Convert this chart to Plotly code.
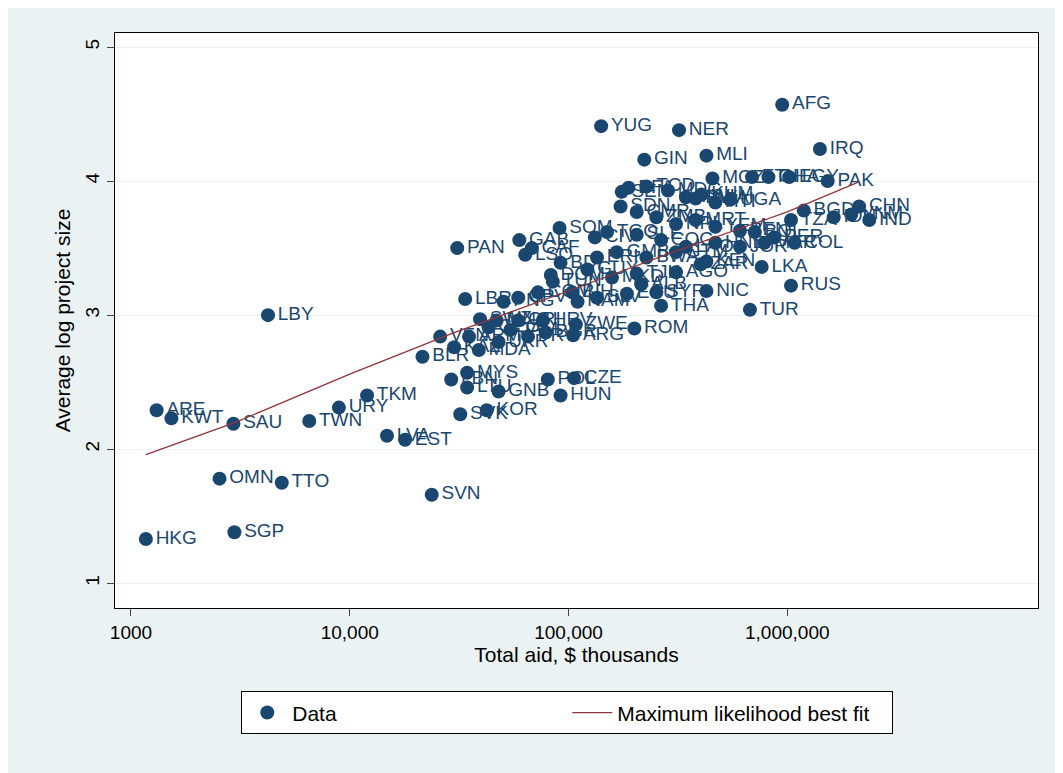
import plotly.graph_objects as go

# total aid ($ thousands), average log project size, country code
aid = [1170, 2970, 2540, 4890, 1310, 1530, 2940, 4230, 6530, 8920, 12000, 14800, 17900,
       23700, 32000, 42300, 92000, 80400, 106000, 47900, 34400, 34400, 29100, 21500, 25900,
       31000, 59600, 63400, 68000, 91000, 92000, 83000, 33700, 39400, 108000, 105000, 200000,
       265000, 427000, 675000, 1040000, 764000, 427000, 310000, 215000, 141000, 320000,
       222000, 427000, 948000, 1410000, 1530000, 2130000, 2370000, 1190000, 1040000, 1630000,
       1960000, 455000, 1020000, 820000, 690000, 405000,
       175000, 188000, 227000, 285000, 344000, 381000, 469000, 548000, 173000, 205000, 252000,
       310000, 381000, 469000, 608000, 710000, 873000, 1080000, 787000, 608000, 150000,
       132000, 205000, 265000, 344000, 469000, 135000, 166000, 227000, 310000, 402000, 122000,
       158000, 205000, 252000, 185000, 135000, 104000, 84800, 72500, 58900, 50500, 46900,
       58900, 76400, 54200, 43100, 35100, 30000, 38900, 47900, 65300, 78700, 110000]
size = [1.33, 1.38, 1.78, 1.75, 2.29, 2.23, 2.19, 3.00, 2.21, 2.31, 2.40, 2.10, 2.07,
        1.66, 2.26, 2.29, 2.40, 2.52, 2.53, 2.43, 2.46, 2.57, 2.52, 2.69, 2.84,
        3.50, 3.56, 3.45, 3.50, 3.65, 3.39, 3.30, 3.12, 2.97, 2.93, 2.85, 2.90,
        3.07, 3.18, 3.04, 3.22, 3.36, 3.40, 3.32, 3.23, 4.41, 4.38,
        4.16, 4.19, 4.57, 4.24, 4.00, 3.81, 3.71, 3.78, 3.71, 3.73,
        3.75, 4.02, 4.03, 4.03, 4.03, 3.90,
        3.92, 3.95, 3.96, 3.93, 3.88, 3.87, 3.84, 3.86, 3.81, 3.77, 3.73,
        3.68, 3.71, 3.66, 3.63, 3.62, 3.58, 3.54, 3.54, 3.51, 3.62,
        3.58, 3.60, 3.56, 3.51, 3.54, 3.43, 3.47, 3.43, 3.47, 3.38, 3.34,
        3.28, 3.31, 3.17, 3.16, 3.13, 3.17, 3.25, 3.17, 3.13, 3.10, 2.96,
        2.96, 2.96, 2.89, 2.91, 2.84, 2.76, 2.74, 2.80, 2.84, 2.87, 3.10]
code = ["HKG", "SGP", "OMN", "TTO", "ARE", "KWT", "SAU", "LBY", "TWN", "URY", "TKM", "LVA", "EST",
        "SVN", "SVK", "KOR", "HUN", "POL", "CZE", "GNB", "LTU", "MYS", "LBN", "BLR", "VEN",
        "PAN", "GAB", "LSO", "CAF", "SOM", "BDI", "DOM", "LBR", "SWZ", "ZWE", "ARG", "ROM",
        "THA", "NIC", "TUR", "RUS", "LKA", "KEN", "AGO", "ALB", "YUG", "NER",
        "GIN", "MLI", "AFG", "IRQ", "PAK", "CHN", "IND", "BGD", "TZA", "IDN",
        "VNM", "MOZ", "EGY", "GHA", "ETH", "KHM",
        "SEN", "BFA", "TCD", "MDG", "MWI", "RWA", "HTI", "UGA", "SDN", "CMR", "ZMB",
        "NPL", "MRT", "YEM", "BEN", "BOL", "PER", "COL", "MAR", "JOR", "TGO",
        "CIV", "SLE", "COG", "LAO", "HND", "ERI", "GMB", "BWA", "GTM", "ZAR", "GUY",
        "MKD", "TJK", "SYR", "ECU", "SLV", "BIH", "TUN", "COM", "CPV", "PNG", "MNG",
        "CRI", "HRV", "JAM", "GEO", "ARM", "KAZ", "MDA", "UKR", "PRY", "BGR", "NAM"]

fit_x = [1170, 3000, 10000, 30000, 100000, 300000, 1000000, 2100000]
fit_y = [1.96, 2.20, 2.56, 2.87, 3.18, 3.47, 3.77, 3.99]

navy = "#1a476f"
fig = go.Figure()
fig.add_trace(go.Scatter(x=aid, y=size, mode="markers+text", text=code, textposition="middle right",
                         textfont=dict(size=19, color=navy),
                         marker=dict(size=14, color=navy), name="Data"))
fig.add_trace(go.Scatter(x=fit_x, y=fit_y, mode="lines", line=dict(color="#90353b", width=1.3),
                         name="Maximum likelihood best fit"))

fig.update_layout(
    width=1063, height=773, paper_bgcolor="#eaf2f3", plot_bgcolor="white",
    margin=dict(l=107, r=33, t=25, b=173),
    font=dict(family="Liberation Sans, Arial", size=19, color="black"),
    legend=dict(orientation="h", x=0.49, xanchor="center", y=-0.145, yanchor="top",
                bgcolor="white", bordercolor="black", borderwidth=1, font=dict(size=21),
                entrywidth=270, itemwidth=40),
)
fig.update_xaxes(type="log", range=[2.927, 7.146], tickvals=[1000, 10000, 100000, 1000000],
                 ticktext=["1000", "10,000", "100,000", "1,000,000"], showgrid=False,
                 ticks="outside", ticklen=7, showline=True, linecolor="black", mirror=True,
                 title=dict(text="Total aid, $ thousands", font=dict(size=21), standoff=4))
fig.update_yaxes(range=[0.815, 5.105], tickvals=[1, 2, 3, 4, 5], tickangle=-90,
                 showgrid=True, gridcolor="#eaf2f3", zeroline=False,
                 ticks="outside", ticklen=7, showline=True, linecolor="black", mirror=True,
                 title=dict(text="Average log project size", font=dict(size=21), standoff=6))

fig.write_html("out.html")
